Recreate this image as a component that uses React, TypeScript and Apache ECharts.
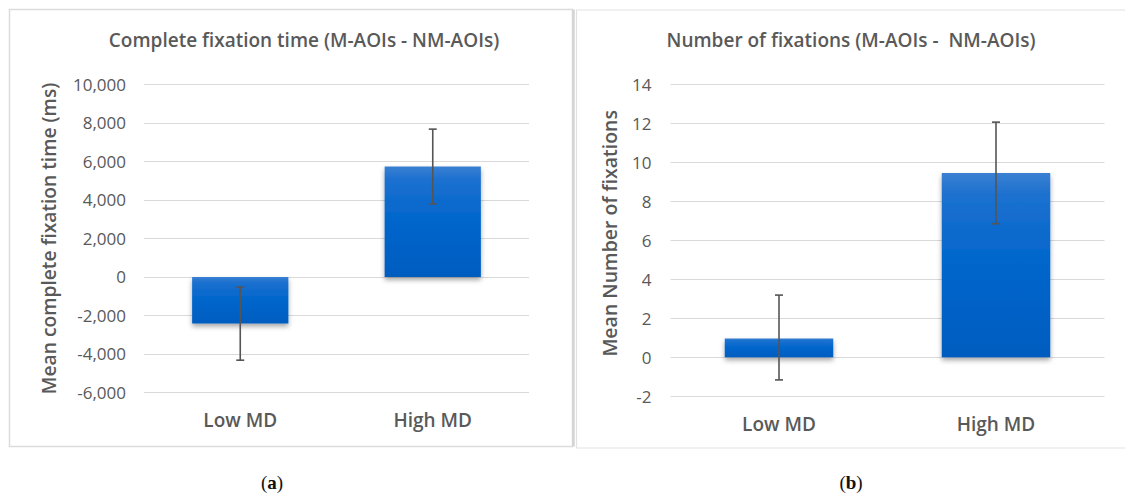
import React, { useEffect, useRef } from "react";
import * as echarts from "echarts";

const categories = ["Low MD", "High MD"];
const timeMeans = [-2420, 5740];
const timeErrLow = [-4330, 3800];
const timeErrHigh = [-530, 7680];
const fixMeans = [0.97, 9.45];
const fixErrLow = [-1.16, 6.85];
const fixErrHigh = [3.19, 12.06];
const timeTitle = "Complete fixation time (M-AOIs - NM-AOIs)";
const fixTitle = "Number of fixations (M-AOIs -  NM-AOIs)";
const timeAxisName = "Mean complete fixation time (ms)";
const fixAxisName = "Mean Number of fixations";

const FONT = "'Open Sans', 'Noto Sans', sans-serif";
const GRAY = "#595959";

const barGradient = new echarts.graphic.LinearGradient(0, 0, 0, 1, [
  { offset: 0, color: "#3a80d2" },
  { offset: 0.12, color: "#1c70cf" },
  { offset: 0.5, color: "#0066cc" },
  { offset: 1, color: "#005cbf" },
]);

function errRender(params: any, api: any) {
  const i = api.value(0);
  const lo = api.coord([i, api.value(1)]);
  const hi = api.coord([i, api.value(2)]);
  const cap = 4;
  const style = { stroke: "#555555", lineWidth: 1.6 };
  return {
    type: "group",
    children: [
      { type: "line", shape: { x1: lo[0], y1: lo[1], x2: hi[0], y2: hi[1] }, style },
      { type: "line", shape: { x1: lo[0] - cap, y1: lo[1], x2: lo[0] + cap, y2: lo[1] }, style },
      { type: "line", shape: { x1: hi[0] - cap, y1: hi[1], x2: hi[0] + cap, y2: hi[1] }, style },
    ],
  };
}

export default function App() {
  const ref = useRef<HTMLDivElement>(null);
  useEffect(() => {
    if (!ref.current) return;
    const chart = echarts.init(ref.current, null, { renderer: "svg" });
    const xAxisBase = {
      type: "category",
      data: categories,
      axisLine: { show: false },
      axisTick: { show: false },
      axisLabel: { color: GRAY, fontSize: 19, fontWeight: 600, fontFamily: FONT, margin: 18 },
    };
    const yAxisBase = {
      type: "value",
      nameLocation: "middle",
      nameRotate: 90,
      axisLine: { show: false },
      axisTick: { show: false },
      splitLine: { lineStyle: { color: "#d9d9d9", width: 1.2 } },
    };
    const barStyle = {
      color: barGradient,
      shadowBlur: 5,
      shadowOffsetY: 3,
      shadowColor: "rgba(0,0,0,0.35)",
    };
    const titleStyle = { color: GRAY, fontSize: 19, fontWeight: 600, fontFamily: FONT };
    const serif = "'Liberation Serif', 'DejaVu Serif', serif";
    const caption = (letter: string, x: number) => ({
      type: "text",
      x,
      y: 482,
      style: {
        text: "({b|" + letter + "})",
        fill: "#111",
        fontSize: 19,
        fontFamily: serif,
        align: "center",
        verticalAlign: "middle",
        rich: { b: { fontWeight: "bold", fontSize: 19, fontFamily: serif, fill: "#111" } },
      },
    });
    chart.setOption({
      animation: false,
      title: [
        { text: timeTitle, left: 299, top: 25, textAlign: "center", textStyle: titleStyle },
        { text: fixTitle, left: 846, top: 25, textAlign: "center", textStyle: titleStyle },
      ],
      grid: [
        { left: 144, right: 596, top: 84.5, bottom: 104.7 },
        { left: 670.5, right: 20.5, top: 84.3, bottom: 100.7 },
      ],
      xAxis: [
        { ...xAxisBase, gridIndex: 0 },
        { ...xAxisBase, gridIndex: 1 },
      ],
      yAxis: [
        {
          ...yAxisBase,
          gridIndex: 0,
          min: -6000,
          max: 10000,
          interval: 2000,
          name: timeAxisName,
          nameGap: 86,
          nameTextStyle: { color: GRAY, fontSize: 19.2, fontWeight: 600, fontFamily: FONT },
          axisLabel: {
            color: GRAY,
            fontSize: 17,
            fontFamily: FONT,
            margin: 18,
            formatter: (v: number) => v.toLocaleString("en-US"),
          },
        },
        {
          ...yAxisBase,
          gridIndex: 1,
          min: -2,
          max: 14,
          interval: 2,
          name: fixAxisName,
          nameGap: 51,
          nameTextStyle: {
            color: GRAY,
            fontSize: 19.5,
            fontWeight: 600,
            fontFamily: FONT,
            padding: [0, 0, 0, 14],
          },
          axisLabel: { color: GRAY, fontSize: 17, fontFamily: FONT, margin: 19 },
        },
      ],
      series: [
        {
          type: "bar",
          xAxisIndex: 0,
          yAxisIndex: 0,
          barWidth: "50%",
          data: timeMeans,
          itemStyle: barStyle,
        },
        {
          type: "bar",
          xAxisIndex: 1,
          yAxisIndex: 1,
          barWidth: "50%",
          data: fixMeans,
          itemStyle: barStyle,
        },
        {
          type: "custom",
          xAxisIndex: 0,
          yAxisIndex: 0,
          renderItem: errRender,
          data: categories.map((_, i) => [i, timeErrLow[i], timeErrHigh[i]]),
          z: 10,
        },
        {
          type: "custom",
          xAxisIndex: 1,
          yAxisIndex: 1,
          renderItem: errRender,
          data: categories.map((_, i) => [i, fixErrLow[i], fixErrHigh[i]]),
          z: 10,
        },
      ],
      graphic: [
        {
          type: "rect",
          shape: { x: 9.5, y: 9.5, width: 563, height: 437 },
          style: { fill: "none", stroke: "#dcdcdc", lineWidth: 1.5 },
          silent: true,
        },
        {
          type: "line",
          shape: { x1: 573.5, y1: 9.5, x2: 573.5, y2: 446.5 },
          style: { stroke: "#d4d4d4", lineWidth: 2.5 },
          silent: true,
        },
        {
          type: "rect",
          shape: { x: 576.5, y: 10, width: 560, height: 438 },
          style: { fill: "none", stroke: "#e2e2e2", lineWidth: 1.2 },
          silent: true,
        },
        caption("a", 272),
        caption("b", 851),
      ],
    });
    return () => chart.dispose();
  }, []);
  return (
    <div
      ref={ref}
      style={{ position: "fixed", left: 0, top: 0, width: 1125, height: 497, background: "#fff" }}
    />
  );
}
